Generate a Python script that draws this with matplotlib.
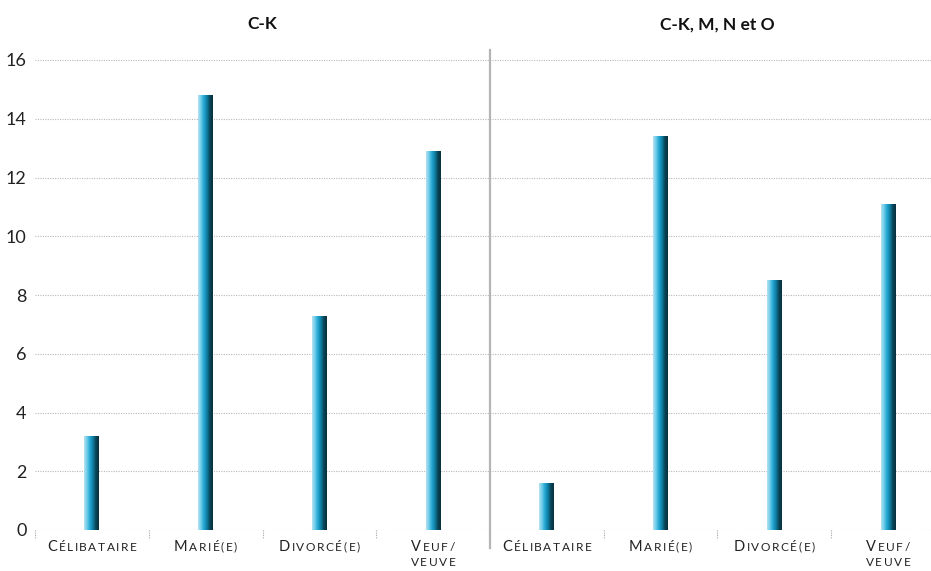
import matplotlib.pyplot as plt
import numpy as np
from matplotlib.colors import LinearSegmentedColormap
from matplotlib.offsetbox import TextArea, HPacker, VPacker, AnnotationBbox

# marital status, share per group (%)
panels = ["C-K", "C-K, M, N et O"]
categories = ["Célibataire", "Marié(e)", "Divorcé(e)", "Veuf/\nveuve"]
values_ck = [3.2, 14.8, 7.3, 12.9]
values_ckmno = [1.6, 13.4, 8.5, 11.1]
yticks = [0, 2, 4, 6, 8, 10, 12, 14, 16]

plt.rcParams["font.family"] = ["Lato", "DejaVu Sans"]

fig = plt.figure(figsize=(9.31, 5.71), dpi=100)
ax = fig.add_axes([35 / 931, 1 - 530 / 571, 910 / 931, 470 / 571])

values = values_ck + values_ckmno
x = np.arange(len(values)) + 0.5
width = 0.13

cmap = LinearSegmentedColormap.from_list(
    "bar", ["#b4e2f2", "#6ccbe8", "#22a6d2", "#0f7fa3", "#0a4558", "#06303e"])
grad = np.linspace(0, 1, 64).reshape(1, -1)

bars = ax.bar(x, values, width, color="none", edgecolor="none", zorder=3)
for b in bars:
    im = ax.imshow(grad, cmap=cmap, aspect="auto", zorder=3,
                   extent=(b.get_x(), b.get_x() + b.get_width(), 0, b.get_height()))
    im.set_clip_path(b)

ax.set_xlim(0, len(values))
ax.set_ylim(0, 16)
ax.set_yticks(yticks)
ax.set_xticks([])
ax.tick_params(axis="y", length=0, pad=6, labelsize=13, labelcolor="#222222")
ax.yaxis.grid(True, color="#b8b8b8", linestyle=(0, (1, 1.2)), linewidth=0.8)
ax.set_axisbelow(True)
for s in ax.spines.values():
    s.set_visible(False)

# panel divider and small boundary marks
ax.plot([4, 4], [-0.61, 16.34], color="#b5b5b5", lw=1.6, clip_on=False, zorder=4)
for b in [0, 1, 2, 3, 5, 6, 7]:
    ax.plot([b, b], [0, -0.3], color="#aaaaaa", lw=0.8,
            linestyle=(0, (1, 1)), clip_on=False)

for i, p in enumerate(panels):
    ax.text(2 + 4 * i, 17.22, p, ha="center", va="center", fontsize=12.5,
            fontweight="bold", color="#111111")


# small caps labels: first letter full size, rest smaller capitals, spaced out
def small_caps(text):
    lines = []
    for j, line in enumerate(text.split("\n")):
        parts = []
        for n, ch in enumerate(line):
            size = 10.5 if (j == 0 and n == 0) else 8.6
            parts.append(TextArea(ch.upper(), textprops=dict(size=size, color="#222222")))
        lines.append(HPacker(children=parts, align="baseline", pad=0, sep=1.1))
    return VPacker(children=lines, align="center", pad=0, sep=2.5)


for k, xc in enumerate(x):
    box = small_caps(categories[k % 4])
    ab = AnnotationBbox(box, (xc, 0), xybox=(0, -7), xycoords="data",
                        boxcoords="offset points", box_alignment=(0.5, 1),
                        frameon=False, annotation_clip=False)
    ax.add_artist(ab)

fig.savefig("out.png", dpi=100)
